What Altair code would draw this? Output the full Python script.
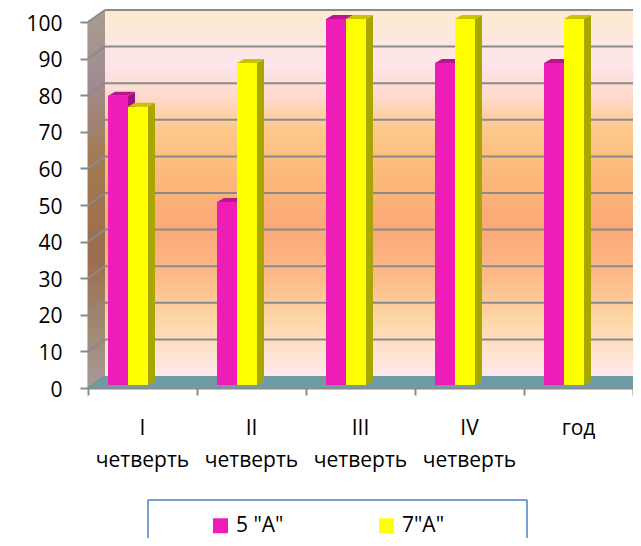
import altair as alt
import pandas as pd

# ---------------- data ----------------
categories = ["I четверть", "II четверть", "III четверть", "IV четверть", "год"]
series = ['5 "A"', '7"A"']
values_5a = [79, 50, 100, 88, 88]
values_7a = [76, 88, 100, 100, 100]
y_ticks = [0, 10, 20, 30, 40, 50, 60, 70, 80, 90, 100]

# ---------------- style ----------------
front_colors = ["#EF1DB8", "#FFFF00"]
side_colors = ["#A30F80", "#A8A600"]
cap_colors = ["#B8158F", "#C9C300"]
grid_color = "#8A8A8A"
floor_color = "#6F9BA6"
FONT = "Open Sans"

W, H = 545, 366
N = len(categories)
PX = W / N          # px per x unit
PY = H / 100.0      # px per y unit
WDX, WDY = 17 / PX, 12 / PY   # back-wall depth offset
BX0, BW = 20 / PX, 20 / PX     # bar start / width inside band
BDY = 3 / PY                   # bar lift (depth)
SDX, SDY = 7 / PX, 4 / PY      # bar depth

xs = alt.Scale(domain=[0, N], nice=False, zero=False)
ys = alt.Scale(domain=[0, 100], nice=False, zero=False)
X_AX = alt.Axis(values=list(range(N + 1)), labels=False, ticks=True, tickSize=7,
                tickWidth=2, tickColor=grid_color, domainColor=grid_color,
                domainWidth=2, grid=False, title=None)
Y_AX = alt.Axis(values=y_ticks, grid=False, tickSize=8, tickWidth=2,
                tickColor=grid_color, domainColor=grid_color, domainWidth=2,
                labelFont=FONT, labelFontSize=21, labelColor="black",
                labelPadding=18, labelOffset=2, title=None)


def X(f):
    return alt.X(f, scale=xs, axis=X_AX, stack=None)


def Y(f):
    return alt.Y(f, scale=ys, axis=Y_AX, stack=None)


# ---------------- derived tables ----------------
fronts, sides, caps = [], [], []
for s, vals in enumerate([values_5a, values_7a]):
    for i, v in enumerate(vals):
        x0 = i + BX0 + s * BW
        x1 = x0 + BW
        y0, y1 = BDY, v + BDY
        bid = f"{s}-{i}"
        fronts.append(dict(series=series[s], s=s, x0=x0, x1=x1, y0=y0, y1=y1))
        sides.append(dict(s=s, id=bid, x=x1, top=y1, bot=y0))
        sides.append(dict(s=s, id=bid, x=x1 + SDX, top=y1 + SDY, bot=y0 + SDY))
        caps.append(dict(s=s, id=bid, y=y1, xa=x0, xb=x1))
        caps.append(dict(s=s, id=bid, y=y1 + SDY, xa=x0 + SDX, xb=x1 + SDX))
fronts = pd.DataFrame(fronts)
sides = pd.DataFrame(sides)
caps = pd.DataFrame(caps)

wall_df = pd.DataFrame([dict(x0=WDX, x1=N, y0=WDY, y1=100 + WDY)])
side_wall_df = pd.DataFrame([dict(x=0, top=100, bot=0),
                             dict(x=WDX, top=100 + WDY, bot=WDY)])
grid_df = pd.DataFrame([dict(v=v + WDY, x0=WDX, x1=N) for v in y_ticks if v > 0])
diag_df = pd.DataFrame([dict(xa=0, ya=v, xb=WDX, yb=v + WDY) for v in y_ticks])
floor_df = pd.DataFrame([dict(y=0, xa=0, xb=N), dict(y=WDY, xa=WDX, xb=N)])
label_df = pd.DataFrame([dict(cx=i + 0.5, label=c) for i, c in enumerate(categories)])

wall_grad = alt.LinearGradient(
    gradient="linear", x1=0, x2=0, y1=0, y2=1,
    stops=[alt.GradientStop(color=c, offset=o) for o, c in [
        (0.0, "#FDEBD0"), (0.15, "#FDE5EC"), (0.24, "#FDD9C8"), (0.33, "#FCC888"),
        (0.45, "#FBB97A"), (0.60, "#FBA878"), (0.72, "#FCB886"), (0.85, "#FDD7A6"),
        (0.95, "#FEE4D6"), (1.0, "#FEE8EC")]])
side_grad = alt.LinearGradient(
    gradient="linear", x1=0, x2=0, y1=0, y2=1,
    stops=[alt.GradientStop(color=c, offset=o) for o, c in [
        (0.0, "#A99D8C"), (0.18, "#A18C94"), (0.40, "#A37A50"), (0.65, "#9C6C4E"),
        (0.85, "#A08A72"), (1.0, "#A89A9C")]])

# ---------------- layers ----------------
wall = alt.Chart(wall_df).mark_rect(color=wall_grad).encode(
    x=X("x0:Q"), x2="x1:Q", y=Y("y0:Q"), y2="y1:Q")
side_wall = alt.Chart(side_wall_df).mark_area(color=side_grad, orient="vertical").encode(
    x=X("x:Q"), y=Y("top:Q"), y2="bot:Q")
grid = alt.Chart(grid_df).mark_rule(color=grid_color, strokeWidth=2).encode(
    x=X("x0:Q"), x2="x1:Q", y=Y("v:Q"))
diag = alt.Chart(diag_df).mark_rule(color=grid_color, strokeWidth=2).encode(
    x=X("xa:Q"), x2="xb:Q", y=Y("ya:Q"), y2="yb:Q")
floor = alt.Chart(floor_df).mark_area(color=floor_color, orient="horizontal").encode(
    y=Y("y:Q"), x=X("xa:Q"), x2="xb:Q")

color_enc = alt.Color("series:N", scale=alt.Scale(domain=series, range=front_colors),
                      legend=alt.Legend(orient="none", legendX=122, legendY=493,
                                        direction="horizontal", title=None,
                                        symbolType="square", symbolSize=225,
                                        symbolStrokeWidth=0, labelFont=FONT,
                                        labelFontSize=21, labelColor="black",
                                        labelOffset=5, columnPadding=92, padding=0))

layers = [wall, side_wall, grid, diag, floor]
for s in range(len(series)):
    front = alt.Chart(fronts[fronts.s == s]).mark_rect().encode(
        x=X("x0:Q"), x2="x1:Q", y=Y("y0:Q"), y2="y1:Q", color=color_enc)
    side = alt.Chart(sides[sides.s == s]).mark_area(color=side_colors[s], orient="vertical").encode(
        x=X("x:Q"), y=Y("top:Q"), y2="bot:Q", detail="id:N")
    cap = alt.Chart(caps[caps.s == s]).mark_area(color=cap_colors[s], orient="horizontal").encode(
        y=Y("y:Q"), x=X("xa:Q"), x2="xb:Q", detail="id:N")
    layers += [front, side, cap]

labels = alt.Chart(label_df).mark_text(
    lineBreak=" ", font=FONT, fontSize=21, baseline="alphabetic", align="center",
    lineHeight=32, color="black").encode(x=X("cx:Q"), y=alt.value(413), text="label:N")

box_df = pd.DataFrame({"k": [0]})
box_color = "#4F81BD"
box_top = alt.Chart(box_df).mark_rule(color=box_color, strokeWidth=1.5).encode(
    x=alt.value(60), x2=alt.value(439), y=alt.value(478))
box_left = alt.Chart(box_df).mark_rule(color=box_color, strokeWidth=1.5).encode(
    x=alt.value(60), y=alt.value(478), y2=alt.value(520))
box_right = alt.Chart(box_df).mark_rule(color=box_color, strokeWidth=1.5).encode(
    x=alt.value(439), y=alt.value(478), y2=alt.value(520))

layers += [labels, box_top, box_left, box_right]

chart = alt.layer(*layers).properties(
    width=W, height=H,
    autosize=alt.AutoSizeParams(type="none"),
    padding={"left": 80, "top": 14, "right": 0, "bottom": 150},
    background="white",
).configure_view(stroke=None)

chart.save("out.html", embed_options={"renderer": "svg", "actions": False})
